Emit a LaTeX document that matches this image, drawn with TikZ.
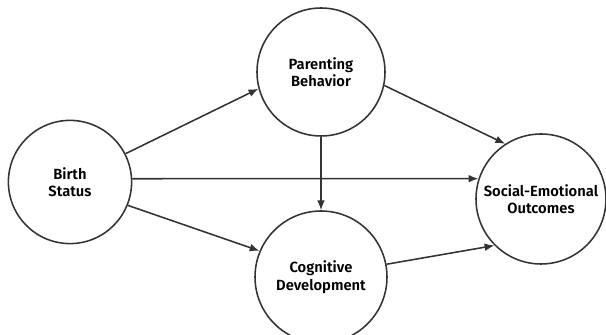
\documentclass[tikz,border=0pt]{standalone}
\usepackage{fontspec}
\setmainfont{Fira Sans}[UprightFont=* SemiBold]
\usepackage{tikz}
\usetikzlibrary{arrows.meta}
\tikzset{
	vtx/.style={shape=circle,draw=cv,fill=cfv,text=clv,line width=1.1pt,align=center,inner sep=0pt,font=\fontsize{10.5}{12.5}\selectfont},
	arc/.style={draw=ce,line width=1.1pt,-{Latex[length=7pt,width=5.5pt]}}
}
\begin{document}
\begin{tikzpicture}
			\definecolor{cv}{rgb}{0.2,0.2,0.2}
			\definecolor{cfv}{rgb}{1.0,1.0,1.0}
			\definecolor{clv}{rgb}{0.0,0.0,0.0}
			\definecolor{ce}{rgb}{0.2,0.2,0.2}
			%
			\useasboundingbox (0,0) rectangle (15.15cm,8.375cm);
			%
			\node[vtx,minimum size=3.08cm] (v0) at (1.75cm,3.825cm) {Birth\\Status};
			\node[vtx,minimum size=3.2cm] (v1) at (8.025cm,6.575cm) {Parenting\\Behavior};
			\node[vtx,minimum size=3.3cm] (v2) at (8.025cm,1.45cm) {Cognitive\\Development};
			\node[vtx,minimum size=3.25cm] (v3) at (13.525cm,3.4cm) {Social-Emotional\\Outcomes};
			%
			\draw[arc] (v0.27) -- (v1.195);
			\draw[arc] (v0.3) -- (v3.162);
			\draw[arc] (v0.-22) -- (v2.157);
			\draw[arc] (v1.south) -- (v2.north);
			\draw[arc] (v1.-12) -- (v3.123);
			\draw[arc] (v2.11) -- (v3.225);
			%
		\end{tikzpicture}
\end{document}
